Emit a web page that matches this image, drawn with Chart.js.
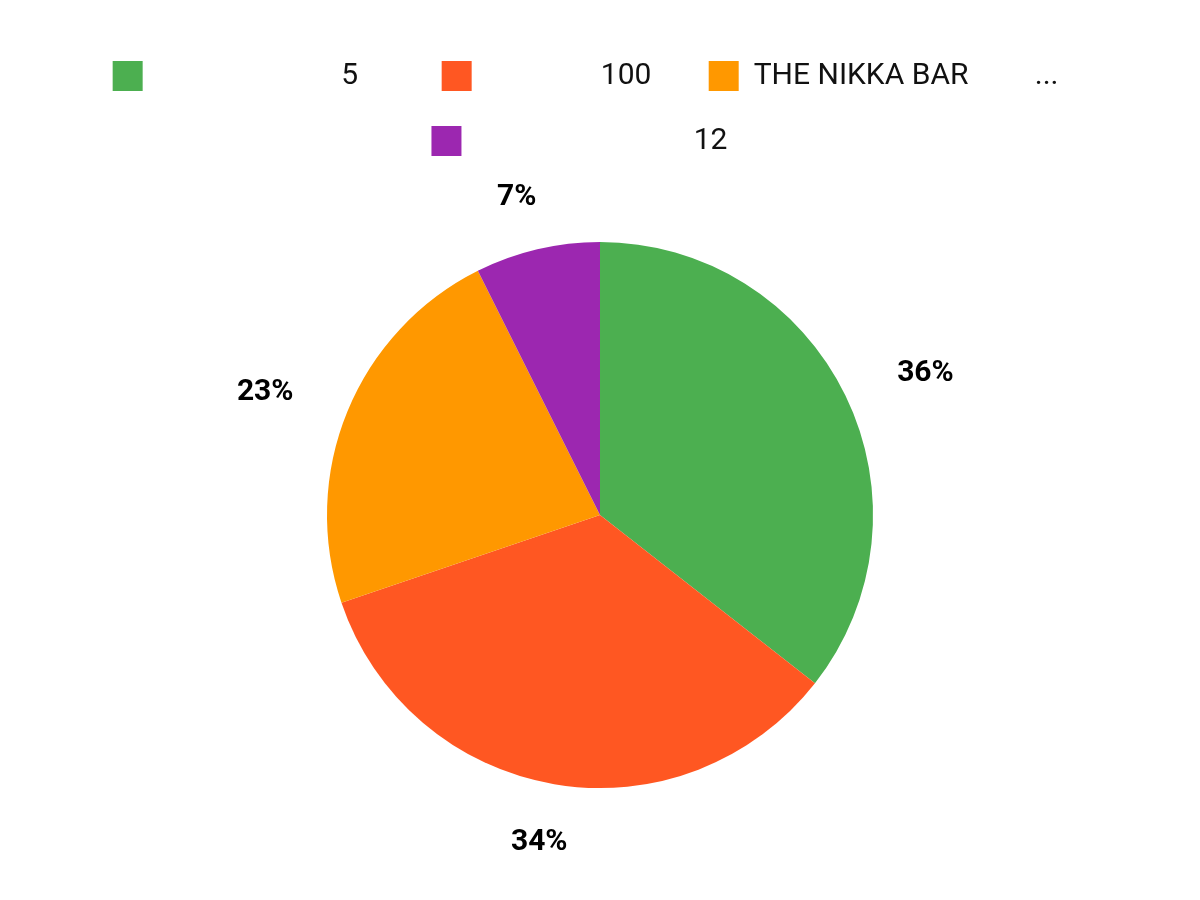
<!DOCTYPE html>
<html>
<head>
<meta charset="utf-8">
<script src="https://cdn.jsdelivr.net/npm/chart.js@4"></script>
<style>
  html, body { margin: 0; background: #fff; }
  #wrap { width: 1200px; height: 900px; }
</style>
</head>
<body>
<div id="wrap"><canvas id="pie" width="1200" height="900"></canvas></div>
<script>
// libellés : le texte non affichable de l'original est rendu par des espaces
const barLabels = [
  '\u2003\u2003\u2003\u2003\u2003\u20035\u2003  \u200A',
  '\u2003\u2003\u2003   100   ',
  'THE NIKKA BAR\u2003\u2003\u2006...\u2002 \u2009',
  '\u2003\u2003\u2003\u2003\u2003\u2003\u2003\u200A12\u2003 \u200A',
];
const barCounts = [53, 51, 34, 11];
const barColors = ['#4CAF50', '#FF5722', '#FF9800', '#9C27B0'];

/**
 * Ajoute de l'espace sous la légende.
 */
const legendGap = {
  id: 'legendGap',
  beforeInit(chart) {
    const legend = chart.legend;
    if (!legend) return;
    const fit = legend.fit;
    legend.fit = function () {
      fit.call(this);
      this.height += 76;
    };
  }
};

/**
 * Pourcentages à l'extérieur des parts.
 */
const outsidePercent = {
  id: 'outsidePercent',
  afterDatasetsDraw(chart) {
    const ctx = chart.ctx;
    const meta = chart.getDatasetMeta(0);
    const values = chart.data.datasets[0].data;
    const total = values.reduce((a, b) => a + b, 0);
    ctx.save();
    ctx.font = 'bold 30px Roboto, "Noto Sans", sans-serif';
    ctx.fillStyle = '#000';
    ctx.textAlign = 'center';
    ctx.textBaseline = 'middle';
    meta.data.forEach((arc, i) => {
      const p = arc.getProps(['x', 'y', 'startAngle', 'endAngle', 'outerRadius'], true);
      const mid = (p.startAngle + p.endAngle) / 2;
      const rx = p.outerRadius + 89;
      const ry = p.outerRadius + 56;
      const text = Math.round(values[i] / total * 100) + '%';
      ctx.fillText(text, p.x + Math.cos(mid) * rx, p.y + Math.sin(mid) * ry + 3);
    });
    ctx.restore();
  }
};

new Chart(document.getElementById('pie').getContext('2d'), {
  type: 'pie',
  data: {
    labels: barLabels,
    datasets: [{
      data: barCounts,
      backgroundColor: barColors,
      borderWidth: 0,
    }]
  },
  options: {
    responsive: false,
    animation: false,
    devicePixelRatio: 1,
    layout: { padding: { top: 26, bottom: 112, left: 0, right: 0 } },
    plugins: {
      legend: {
        position: 'top',
        labels: {
          boxWidth: 30,
          boxHeight: 30,
          padding: 35,
          color: '#111',
          font: { family: 'Roboto, "Noto Sans", sans-serif', size: 30 },
        }
      },
      tooltip: { enabled: false },
    }
  },
  plugins: [legendGap, outsidePercent]
});
</script>
</body>
</html>
